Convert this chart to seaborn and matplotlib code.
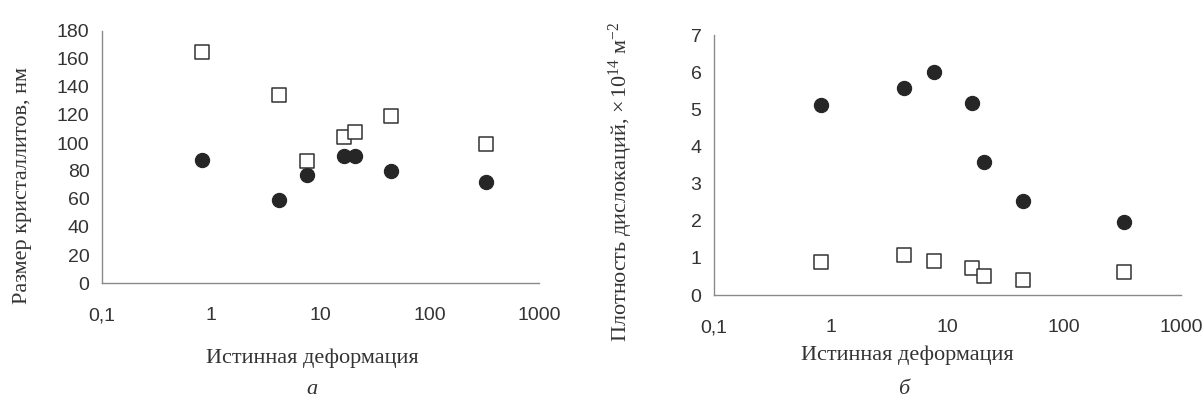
import matplotlib
matplotlib.use("Agg")
import matplotlib.pyplot as plt
import seaborn as sns
import pandas as pd
import numpy as np
from matplotlib.ticker import FixedLocator, FixedFormatter, NullLocator

# ---- data ----
strain = [0.83, 4.2, 7.6, 16.3, 20.5, 44.5, 325]
size_open = [165, 134, 87, 104, 108, 119, 99]
size_filled = [88, 59, 77, 91, 91, 80, 72]
disl_filled = [5.11, 5.58, 6.0, 5.17, 3.58, 2.54, 1.97]
disl_open = [0.89, 1.08, 0.92, 0.72, 0.50, 0.41, 0.62]

xticks = [0.1, 1, 10, 100, 1000]
xticklabels = ["0,1", "1", "10", "100", "1000"]
yticks_a = [0, 20, 40, 60, 80, 100, 120, 140, 160, 180]
yticks_b = [0, 1, 2, 3, 4, 5, 6, 7]

xlabel = "Истинная деформация"
ylabel_a = "Размер кристаллитов, нм"
ylabel_b = r"Плотность дислокаций, $\times\,10^{14}$ м$^{-2}$"

sns.set_theme(style="white")
plt.rcParams['font.family'] = ['Liberation Sans', 'DejaVu Sans']
plt.rcParams['mathtext.fontset'] = 'custom'
plt.rcParams['mathtext.rm'] = 'Liberation Serif'
plt.rcParams['mathtext.it'] = 'Liberation Serif:italic'

W, H = 1204, 403
fig = plt.figure(figsize=(W / 100, H / 100), dpi=100)
fig.patch.set_facecolor("white")

def px_axes(l, t, r, b):
    return fig.add_axes([l / W, 1 - b / H, (r - l) / W, (b - t) / H])

ax1 = px_axes(102, 31, 539, 283)
ax2 = px_axes(714, 35, 1181, 295)

dfa = pd.DataFrame({"x": strain, "open": size_open, "filled": size_filled})
dfb = pd.DataFrame({"x": strain, "open": disl_open, "filled": disl_filled})

dark = "#262626"
for ax, df in [(ax1, dfa), (ax2, dfb)]:
    sns.scatterplot(data=df, x="x", y="filled", ax=ax, marker="o", s=105,
                    color=dark, edgecolor=dark, linewidth=0.8, zorder=3)
    sns.scatterplot(data=df, x="x", y="open", ax=ax, marker="s", s=88,
                    facecolor="white", edgecolor="#333333", linewidth=1.1, zorder=3)
    ax.set_xscale("log")
    ax.set_xlim(0.1, 1000)
    ax.xaxis.set_major_locator(FixedLocator(xticks))
    ax.xaxis.set_major_formatter(FixedFormatter(xticklabels))
    ax.xaxis.set_minor_locator(NullLocator())
    for s in ["top", "right"]:
        ax.spines[s].set_visible(False)
    for s in ["left", "bottom"]:
        ax.spines[s].set_color("#8a8a8a")
        ax.spines[s].set_linewidth(1.0)
    ax.tick_params(axis="x", direction="inout", length=7, width=1, color="#8a8a8a",
                   labelsize=14, labelcolor="#333333", pad=14)
    ax.tick_params(axis="y", direction="out", length=4, width=1, color="#8a8a8a",
                   labelsize=14, labelcolor="#333333", pad=5)
    ax.set_xlabel("")
    ax.set_ylabel("")
    ax.set_facecolor("white")

ax1.set_ylim(0, 180)
ax1.set_yticks(yticks_a)
ax2.set_ylim(0, 7)
ax2.set_yticks(yticks_b)
for ax in (ax1, ax2):
    for c in ax.collections:
        c.set_clip_on(False)

serif = ['Liberation Serif', 'DejaVu Serif']
def ftext(x, y, s, **kw):
    fig.text(x / W, 1 - y / H, s, family=serif, color="#333333", **kw)

ftext(23, 185, ylabel_a, rotation=90, ha="center", va="center", fontsize=16)
ftext(621, 182, ylabel_b, rotation=90, ha="center", va="center", fontsize=16)
ftext(312, 358, xlabel, ha="center", va="center", fontsize=16)
ftext(907, 355, xlabel, ha="center", va="center", fontsize=16)
ftext(312, 390, "а", ha="center", va="center", fontsize=16, style="italic")
ftext(904, 390, "б", ha="center", va="center", fontsize=16, style="italic")

fig.savefig("out.png", dpi=100, facecolor="white")
